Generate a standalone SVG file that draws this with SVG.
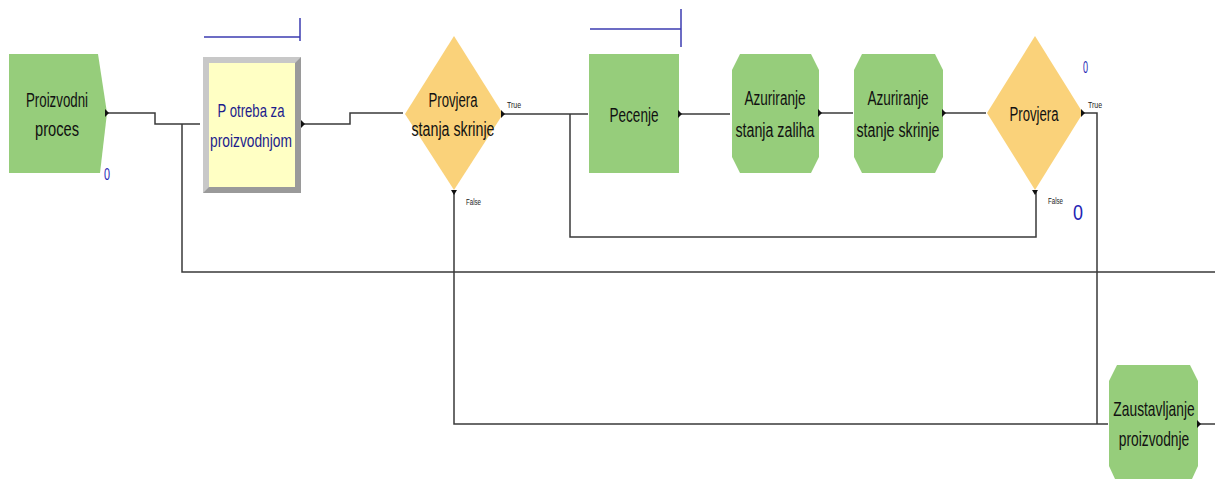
<svg xmlns="http://www.w3.org/2000/svg" width="1215" height="480" viewBox="0 0 1215 480">
<style>
.g{fill:#96CD7B;}
.d{fill:#FAD27A;}
.t{font-family:"Liberation Sans",Arial,sans-serif;font-size:20px;fill:#111;text-anchor:middle;}
.tb{font-family:"Liberation Sans",Arial,sans-serif;font-size:19px;fill:#1C1C8C;text-anchor:middle;}
.s{font-family:"Liberation Sans",Arial,sans-serif;font-size:9px;fill:#222;}
.c{fill:none;stroke:#3a3a3a;stroke-width:1.5;}
.q{fill:none;stroke:#3B3BB0;stroke-width:1.5;}
.n{font-family:"Liberation Sans",Arial,sans-serif;fill:#2424B4;}
.p{fill:#111;}
</style>
<rect width="1215" height="480" fill="#fff"/>
<g id="connectors">
<polyline class="c" points="107,113 155,113 155,124 200,124"/>
<polyline class="c" points="182,124 182,272 1215,272"/>
<polyline class="c" points="302,124 350,124 350,113 403,113"/>
<polyline class="c" points="503,114 588,114"/>
<polyline class="c" points="570,114 570,237 1036,237 1036,192"/>
<polyline class="c" points="454,190 454,424 1108,424"/>
<polyline class="c" points="680,114 730,114"/>
<polyline class="c" points="820,113 853,113"/>
<polyline class="c" points="944,113 986,113"/>
<polyline class="c" points="1083,113 1097,113 1097,424"/>
<polyline class="c" points="1199,424 1215,424"/>
</g>
<g id="proizvodni-proces">
<polygon class="g" points="9,54 98,54 107,113 100,173 9,173"/>
<text class="t" x="57" y="107" textLength="62" lengthAdjust="spacingAndGlyphs">Proizvodni</text>
<text class="t" x="57" y="136" textLength="44" lengthAdjust="spacingAndGlyphs">proces</text>
<polygon class="p" points="105,109 109,113 105,117"/>
<text class="n" x="104" y="180" font-size="16" textLength="6" lengthAdjust="spacingAndGlyphs">0</text>
</g>
<g id="potreba">
<polyline class="q" points="204,37 300,37"/>
<line class="q" x1="300" y1="18" x2="300" y2="41"/>
<rect x="203" y="57" width="98" height="136" fill="#9a9a9a"/>
<polygon points="203,57 301,57 295,63 209,63 209,187 203,193" fill="#c8c8c8"/>
<rect x="209" y="63" width="86" height="124" fill="#FFFFC4"/>
<text class="tb" x="251" y="117" textLength="67" lengthAdjust="spacingAndGlyphs">P otreba za</text>
<text class="tb" x="251" y="147" textLength="82" lengthAdjust="spacingAndGlyphs">proizvodnjom</text>
<polygon class="p" points="301,120 305,124 301,128"/>
</g>
<g id="provjera-stanja-skrinje">
<polygon class="d" points="454,36 503,114 454,190 405,114"/>
<text class="t" x="453" y="107" textLength="49" lengthAdjust="spacingAndGlyphs">Provjera</text>
<text class="t" x="453" y="136" textLength="83" lengthAdjust="spacingAndGlyphs">stanja skrinje</text>
<polygon class="p" points="501,110 505,114 501,118"/>
<polygon class="p" points="451,190 457,190 454,195"/>
<text class="s" x="507" y="108" textLength="14" lengthAdjust="spacingAndGlyphs">True</text>
<text class="s" x="466" y="205" font-size="8" textLength="15" lengthAdjust="spacingAndGlyphs">False</text>
</g>
<g id="pecenje">
<polyline class="q" points="590,29 681,29"/>
<line class="q" x1="681" y1="9" x2="681" y2="47"/>
<rect class="g" x="589" y="54" width="90" height="119"/>
<text class="t" x="634" y="122" textLength="49" lengthAdjust="spacingAndGlyphs">Pecenje</text>
<polygon class="p" points="678,110 682,114 678,118"/>
</g>
<g id="azuriranje-stanja-zaliha">
<polygon class="g" points="740,54 811,54 819,70 819,157 811,173 740,173 732,157 732,70"/>
<text class="t" x="775" y="105" textLength="61" lengthAdjust="spacingAndGlyphs">Azuriranje</text>
<text class="t" x="775" y="137" textLength="79" lengthAdjust="spacingAndGlyphs">stanja zaliha</text>
<polygon class="p" points="818,109 822,113 818,117"/>
</g>
<g id="azuriranje-stanje-skrinje">
<polygon class="g" points="862,54 935,54 943,70 943,157 935,173 862,173 854,157 854,70"/>
<text class="t" x="898" y="105" textLength="61" lengthAdjust="spacingAndGlyphs">Azuriranje</text>
<text class="t" x="898" y="137" textLength="83" lengthAdjust="spacingAndGlyphs">stanje skrinje</text>
<polygon class="p" points="942,109 946,113 942,117"/>
</g>
<g id="provjera">
<polygon class="d" points="1035,36 1083,113 1035,190 987,113"/>
<text class="t" x="1034" y="121" textLength="49" lengthAdjust="spacingAndGlyphs">Provjera</text>
<polygon class="p" points="1081,109 1085,113 1081,117"/>
<polygon class="p" points="1032,190 1038,190 1035,195"/>
<text class="s" x="1088" y="108" textLength="14" lengthAdjust="spacingAndGlyphs">True</text>
<text class="s" x="1048" y="204" font-size="8" textLength="15" lengthAdjust="spacingAndGlyphs">False</text>
<text class="n" x="1083" y="73" font-size="16" textLength="5" lengthAdjust="spacingAndGlyphs">0</text>
<text class="n" x="1073" y="220" font-size="22" textLength="10" lengthAdjust="spacingAndGlyphs">0</text>
</g>
<g id="zaustavljanje-proizvodnje">
<polygon class="g" points="1117,365 1190,365 1198,381 1198,466 1192,479 1115,479 1109,466 1109,381"/>
<text class="t" transform="translate(1154,416) scale(0.69,1)">Zaustavljanje</text>
<text class="t" transform="translate(1154,446) scale(0.69,1)">proizvodnje</text>
<polygon class="p" points="1197,420 1201,424 1197,428"/>
</g>
</svg>
